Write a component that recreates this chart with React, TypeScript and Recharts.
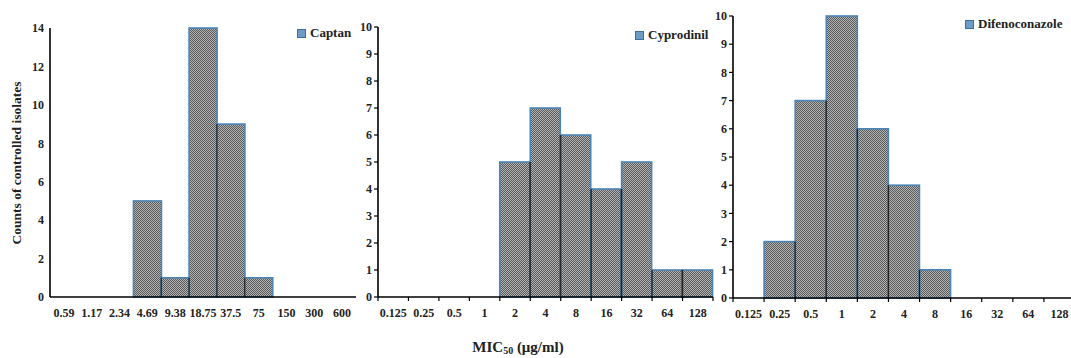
import { Bar, BarChart, Legend, XAxis, YAxis } from 'recharts'

// MIC50 classes (µg/ml) and counts of isolates per class
const captanBins = ['0.59', '1.17', '2.34', '4.69', '9.38', '18.75', '37.5', '75', '150', '300', '600']
const captanCounts = [0, 0, 0, 5, 1, 14, 9, 1, 0, 0, 0]
const captanTicks = [0, 2, 4, 6, 8, 10, 12, 14]

const cyproBins = ['0.125', '0.25', '0.5', '1', '2', '4', '8', '16', '32', '64', '128']
const cyproCounts = [0, 0, 0, 0, 5, 7, 6, 4, 5, 1, 1]

const difenoBins = ['0.125', '0.25', '0.5', '1', '2', '4', '8', '16', '32', '64', '128']
const difenoCounts = [0, 2, 7, 10, 6, 4, 1, 0, 0, 0, 0]

const tenTicks = [0, 1, 2, 3, 4, 5, 6, 7, 8, 9, 10]

const FONT = '"Liberation Serif", "DejaVu Serif", serif'
const BLUE = '#4a84b6'

const toRows = (bins: string[], counts: number[]) => bins.map((bin, i) => ({ bin, count: counts[i] }))

// histogram bar: blue outline, dark separators where neighbours touch
const makeShape = (values: number[]) => (props: any) => {
  const { x, y, width, height, index } = props
  const v = values[index]
  if (!v || !height) return <g />
  const unit = height / v
  const bottom = y + height
  const leftH = Math.min(v, index > 0 ? values[index - 1] : 0) * unit
  const rightH = Math.min(v, index < values.length - 1 ? values[index + 1] : 0) * unit
  return (
    <g>
      <rect x={x} y={y} width={width} height={height} fill='url(#checker)' stroke={BLUE} strokeWidth={1.6} />
      {leftH > 0 && <line x1={x} x2={x} y1={bottom} y2={bottom - leftH} stroke='#222' strokeWidth={1.2} />}
      {rightH > 0 && <line x1={x + width} x2={x + width} y1={bottom} y2={bottom - rightH} stroke='#222' strokeWidth={1.2} />}
    </g>
  )
}

const makeXTick = (band: number, count: number, marks: boolean) => (props: any) => {
  const { x, y, payload, index } = props
  const axisY = y - 12
  return (
    <g>
      {marks && <line x1={x - band / 2} x2={x - band / 2} y1={axisY} y2={axisY + 4} stroke='#000' strokeWidth={1.2} />}
      {marks && index === count - 1 && (
        <line x1={x + band / 2} x2={x + band / 2} y1={axisY} y2={axisY + 4} stroke='#000' strokeWidth={1.2} />
      )}
      <text x={x} y={axisY + 20} textAnchor='middle' fill='#222' fontSize={12} fontWeight={700} fontFamily={FONT}>
        {payload.value}
      </text>
    </g>
  )
}

const legendContent = (name: string) => () => (
  <div style={{ display: 'flex', alignItems: 'center', gap: 4, whiteSpace: 'nowrap' }}>
    <svg width={9} height={9}>
      <rect x={0.5} y={0.5} width={8} height={8} fill='#6a9cc6' stroke='#3b6f9c' />
    </svg>
    <span style={{ fontFamily: FONT, fontWeight: 700, fontSize: 13, color: '#222' }}>{name}</span>
  </div>
)

type PanelProps = {
  name: string
  bins: string[]
  counts: number[]
  ticks: number[]
  left: number
  width: number
  margin: { top: number; right: number; left: number; bottom: number }
  yWidth: number
  marks: boolean
  legendPos: { left: number; top: number }
}

function Panel(p: PanelProps) {
  const plotW = p.width - p.margin.left - p.margin.right - p.yWidth
  const band = plotW / p.bins.length
  return (
    <div style={{ position: 'absolute', left: p.left, top: 0 }}>
      <BarChart
        width={p.width}
        height={358}
        data={toRows(p.bins, p.counts)}
        margin={p.margin}
        barCategoryGap={0}
        barGap={0}
      >
        <XAxis
          dataKey='bin'
          interval={0}
          height={30}
          tickSize={0}
          tickMargin={12}
          tickLine={false}
          axisLine={{ stroke: '#000', strokeWidth: 1.6 }}
          tick={makeXTick(band, p.bins.length, p.marks)}
        />
        <YAxis
          width={p.yWidth}
          domain={[0, p.ticks[p.ticks.length - 1]]}
          ticks={p.ticks}
          interval={0}
          tickSize={4}
          tickMargin={2}
          tickLine={p.marks ? { stroke: '#000', strokeWidth: 1.2 } : false}
          axisLine={{ stroke: '#000', strokeWidth: 1.6 }}
          tick={{ fill: '#222', fontSize: 12, fontWeight: 700, fontFamily: FONT }}
        />
        <Legend
          layout='horizontal'
          verticalAlign='middle'
          align='center'
          content={legendContent(p.name)}
          wrapperStyle={{ left: p.legendPos.left, top: p.legendPos.top, width: 'auto' }}
        />
        <Bar dataKey='count' name={p.name} isAnimationActive={false} shape={makeShape(p.counts)} />
      </BarChart>
    </div>
  )
}

export default function App() {
  return (
    <div style={{ position: 'absolute', left: 0, top: 0, width: 1071, height: 358, overflow: 'hidden', background: '#fff' }}>
      <svg width={0} height={0} style={{ position: 'absolute' }}>
        <defs>
          <pattern id='checker' width={2} height={2} patternUnits='userSpaceOnUse'>
            <rect width={2} height={2} fill='#b4b4b4' />
            <rect width={1} height={1} fill='#595959' />
            <rect x={1} y={1} width={1} height={1} fill='#595959' />
          </pattern>
        </defs>
      </svg>
      <Panel
        name='Captan'
        bins={captanBins}
        counts={captanCounts}
        ticks={captanTicks}
        left={0}
        width={360}
        margin={{ top: 28, right: 4, left: 10, bottom: 31 }}
        yWidth={40}
        marks={false}
        legendPos={{ left: 297, top: 25 }}
      />
      <Panel
        name='Cyprodinil'
        bins={cyproBins}
        counts={cyproCounts}
        ticks={tenTicks}
        left={355}
        width={365}
        margin={{ top: 27, right: 7, left: 5, bottom: 31 }}
        yWidth={18}
        marks={true}
        legendPos={{ left: 280, top: 27 }}
      />
      <Panel
        name='Difenoconazole'
        bins={difenoBins}
        counts={difenoCounts}
        ticks={tenTicks}
        left={700}
        width={380}
        margin={{ top: 16, right: 5, left: 8, bottom: 30 }}
        yWidth={25}
        marks={true}
        legendPos={{ left: 265, top: 16 }}
      />
      <div
        style={{
          position: 'absolute',
          left: 17,
          top: 163,
          transform: 'translate(-50%, -50%) rotate(-90deg)',
          whiteSpace: 'nowrap',
          fontFamily: FONT,
          fontWeight: 700,
          fontSize: 13.5,
          color: '#222',
        }}
      >
        Counts of controlled isolates
      </div>
      <div
        style={{
          position: 'absolute',
          left: 518,
          top: 347,
          transform: 'translate(-50%, -50%)',
          whiteSpace: 'nowrap',
          fontFamily: FONT,
          fontWeight: 700,
          fontSize: 15,
          color: '#222',
        }}
      >
        MIC<sub style={{ fontSize: 10, verticalAlign: '-0.2em' }}>50</sub> (μg/ml)
      </div>
    </div>
  )
}
